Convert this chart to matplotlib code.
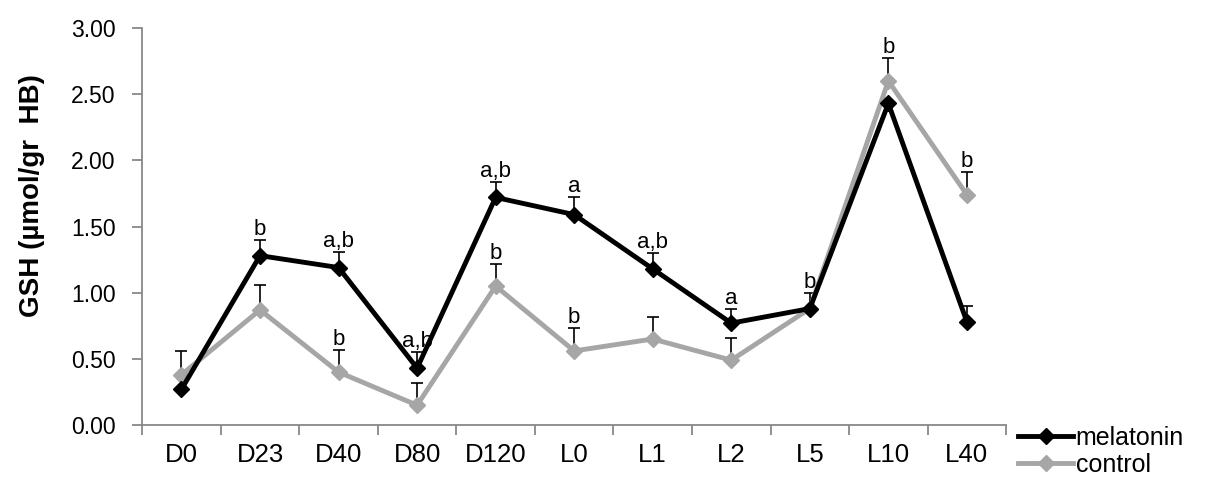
import numpy as np
import matplotlib.pyplot as plt

plt.rcParams['font.family'] = ['Liberation Sans', 'DejaVu Sans']

groups = ['D0', 'D23', 'D40', 'D80', 'D120', 'L0', 'L1', 'L2', 'L5', 'L10', 'L40']

melatonin = [0.27, 1.28, 1.19, 0.43, 1.72, 1.59, 1.18, 0.77, 0.88, 2.43, 0.78]
melatonin_err = [0.0, 0.12, 0.12, 0.12, 0.12, 0.13, 0.12, 0.11, 0.12, 0.0, 0.12]
melatonin_sig = ['', 'b', 'a,b', 'a,b', 'a,b', 'a', 'a,b', 'a', 'b', '', '']

control = [0.38, 0.87, 0.40, 0.15, 1.05, 0.56, 0.65, 0.49, 0.88, 2.60, 1.74]
control_err = [0.18, 0.19, 0.17, 0.17, 0.17, 0.17, 0.17, 0.17, 0.0, 0.17, 0.17]
control_sig = ['', '', 'b', '', 'b', 'b', '', '', '', 'b', 'b']


def main():
    fig = plt.figure(figsize=(12.05, 4.83), dpi=100)
    ax = fig.add_axes([0.118, 0.12, 0.717, 0.822])
    x = np.arange(len(groups))

    series = [
        (melatonin, melatonin_err, melatonin_sig, 'black', 'melatonin', 3),
        (control, control_err, control_sig, '#a6a6a6', 'control', 2),
    ]
    for vals, err, sig, color, name, z in series:
        vals = np.array(vals)
        err = np.array(err)
        # upper error bars only, drawn under the lines
        ax.errorbar(x, vals, yerr=[np.zeros_like(err), err], fmt='none',
                    ecolor='black', elinewidth=1.2, capsize=4.5, capthick=1.2, zorder=1)
        ax.plot(x, vals, color=color, lw=3.5, marker='D', markersize=8.5,
                label=name, zorder=z)
        for xi, v, e, s in zip(x, vals, err, sig):
            if s:
                ax.annotate(s, (xi, v + e), xytext=(0, 0), textcoords='offset points',
                            ha='center', va='bottom', fontsize=16)

    ax.set_xlim(-0.5, len(groups) - 0.5)
    ax.set_ylim(0, 3.0)
    yt = np.arange(0, 3.01, 0.5)
    ax.set_yticks(yt)
    ax.set_yticklabels(['%.2f' % t for t in yt], fontsize=16.5)
    ax.set_xticks(np.arange(-0.5, len(groups), 1.0))
    ax.set_xticklabels([])
    ax.set_xticks(x, minor=True)
    ax.set_xticklabels(groups, minor=True, fontsize=18.5)
    ax.tick_params(axis='x', which='minor', length=0, pad=13)
    ax.tick_params(axis='x', which='major', length=7, color='#888888', width=1.3)
    ax.tick_params(axis='y', length=7, color='#888888', width=1.3, pad=12)

    for side in ['top', 'right']:
        ax.spines[side].set_visible(False)
    for side in ['left', 'bottom']:
        ax.spines[side].set_color('#888888')
        ax.spines[side].set_linewidth(1.3)

    ax.set_ylabel('GSH (\u00b5mol/gr  HB)', fontsize=20, fontweight='bold')
    ax.yaxis.set_label_coords(-0.112, 0.577)

    ax.legend(loc='upper left', bbox_to_anchor=(0.845, 0.118),
              bbox_transform=fig.transFigure, frameon=False,
              fontsize=18, handlelength=2.2, handletextpad=0.1, labelspacing=0.1,
              borderpad=0, borderaxespad=0)

    fig.savefig('out.png', dpi=100)


if __name__ == '__main__':
    main()
